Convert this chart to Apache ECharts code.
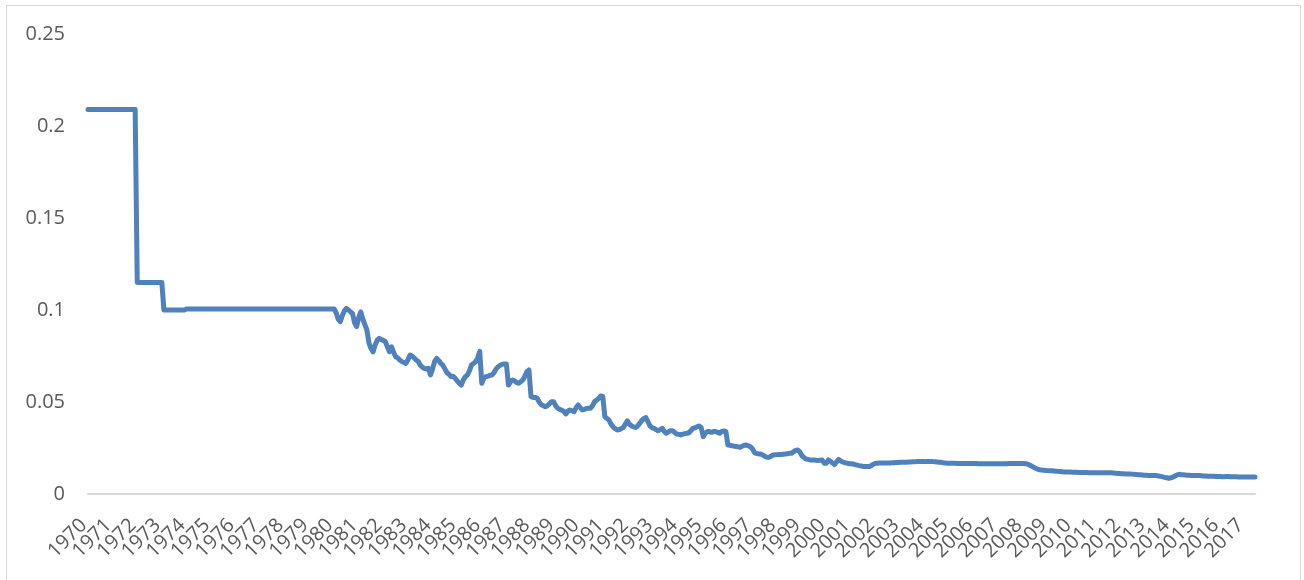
<!DOCTYPE html>
<html>
<head>
<meta charset="utf-8">
<title>Monthly ratio, 1970–2017</title>
<script src="https://cdn.jsdelivr.net/npm/echarts@6/dist/echarts.min.js"></script>
<style>
  html, body { margin: 0; padding: 0; background: #ffffff; }
  #frame {
    position: absolute; left: 6px; top: 5px; width: 1295px; height: 590px;
    border: 1px solid #d9d9d9; box-sizing: border-box;
  }
  #chart { position: absolute; left: 0; top: 0; width: 1304px; height: 580px; }
</style>
</head>
<body>
<div id="frame"></div>
<div id="chart"></div>
<script>
// Year labels along the category axis (one category per month)
const years = [
  1970, 1971, 1972, 1973, 1974, 1975, 1976, 1977, 1978, 1979,
  1980, 1981, 1982, 1983, 1984, 1985, 1986, 1987, 1988, 1989,
  1990, 1991, 1992, 1993, 1994, 1995, 1996, 1997, 1998, 1999,
  2000, 2001, 2002, 2003, 2004, 2005, 2006, 2007, 2008, 2009,
  2010, 2011, 2012, 2013, 2014, 2015, 2016, 2017
];
const months = ['01','02','03','04','05','06','07','08','09','10','11','12'];

// Monthly values, one row per year
const ratio1970s = [
  0.209, 0.209, 0.209, 0.209, 0.209, 0.209, 0.209, 0.209, 0.209, 0.209, 0.209, 0.209,
  0.209, 0.209, 0.209, 0.209, 0.209, 0.209, 0.209, 0.209, 0.209, 0.209, 0.209, 0.209,
  0.115, 0.115, 0.115, 0.115, 0.115, 0.115, 0.115, 0.115, 0.115, 0.115, 0.115, 0.115,
  0.115, 0.1, 0.1, 0.1, 0.1, 0.1, 0.1, 0.1, 0.1, 0.1, 0.1, 0.1,
  0.1005, 0.1005, 0.1005, 0.1005, 0.1005, 0.1005, 0.1005, 0.1005, 0.1005, 0.1005, 0.1005, 0.1005,
  0.1005, 0.1005, 0.1005, 0.1005, 0.1005, 0.1005, 0.1005, 0.1005, 0.1005, 0.1005, 0.1005, 0.1005,
  0.1005, 0.1005, 0.1005, 0.1005, 0.1005, 0.1005, 0.1005, 0.1005, 0.1005, 0.1005, 0.1005, 0.1005,
  0.1005, 0.1005, 0.1005, 0.1005, 0.1005, 0.1005, 0.1005, 0.1005, 0.1005, 0.1005, 0.1005, 0.1005,
  0.1005, 0.1005, 0.1005, 0.1005, 0.1005, 0.1005, 0.1005, 0.1005, 0.1005, 0.1005, 0.1005, 0.1005,
  0.1005, 0.1005, 0.1005, 0.1005, 0.1005, 0.1005, 0.1005, 0.1005, 0.1005, 0.1005, 0.1005, 0.1005
];
const ratio1980s = [
  0.1005, 0.0985, 0.095, 0.0937, 0.097, 0.0995, 0.1009, 0.1, 0.099, 0.098, 0.093, 0.091,
  0.096, 0.099, 0.095, 0.092, 0.089, 0.082, 0.079, 0.0773, 0.081, 0.0835, 0.0846, 0.084,
  0.0835, 0.0828, 0.080, 0.0773, 0.080, 0.077, 0.0746, 0.074, 0.0728, 0.072, 0.0715, 0.071,
  0.073, 0.0755, 0.075, 0.074, 0.0728, 0.072, 0.070, 0.069, 0.0683, 0.068, 0.0683, 0.0647,
  0.068, 0.072, 0.0737, 0.0725, 0.071, 0.070, 0.068, 0.066, 0.065, 0.0638, 0.064, 0.0629,
  0.0615, 0.0602, 0.0592, 0.062, 0.0638, 0.0647, 0.067, 0.0701, 0.071, 0.0719, 0.074, 0.0775,
  0.0602, 0.063, 0.0638, 0.064, 0.0645, 0.0647, 0.066, 0.068, 0.0692, 0.070, 0.0705, 0.0707,
  0.0707, 0.0592, 0.061, 0.062, 0.0615, 0.0605, 0.0602, 0.061, 0.062, 0.064, 0.0665, 0.0674,
  0.0529, 0.0525, 0.0525, 0.052, 0.050, 0.0485, 0.048, 0.0475, 0.048, 0.049, 0.0502, 0.0502,
  0.048, 0.0466, 0.046, 0.0455, 0.045, 0.0435, 0.045, 0.0457, 0.0452, 0.0447, 0.047, 0.0484
];
const ratio1990s = [
  0.047, 0.0457, 0.046, 0.0465, 0.0466, 0.0466, 0.048, 0.0502, 0.051, 0.052, 0.0533, 0.053,
  0.042, 0.041, 0.0402, 0.038, 0.0366, 0.0355, 0.0348, 0.035, 0.0355, 0.0362, 0.038, 0.0397,
  0.038, 0.037, 0.0365, 0.0362, 0.037, 0.0384, 0.040, 0.041, 0.0415, 0.0393, 0.037, 0.036,
  0.0357, 0.035, 0.0344, 0.035, 0.0357, 0.034, 0.033, 0.0338, 0.0344, 0.0344, 0.0335, 0.0326,
  0.0324, 0.0321, 0.0325, 0.0328, 0.033, 0.0333, 0.0345, 0.0357, 0.036, 0.0365, 0.037, 0.036,
  0.0312, 0.033, 0.0339, 0.0339, 0.0335, 0.0339, 0.0339, 0.0335, 0.033, 0.034, 0.0342, 0.034,
  0.0266, 0.0265, 0.0262, 0.026, 0.0258, 0.0256, 0.0254, 0.026, 0.0265, 0.0266, 0.0262, 0.0257,
  0.0245, 0.0225, 0.022, 0.0218, 0.0217, 0.0212, 0.0205, 0.020, 0.0199, 0.0205, 0.0212, 0.0213,
  0.0214, 0.0215, 0.0215, 0.0216, 0.0217, 0.0219, 0.0221, 0.0221, 0.023, 0.0237, 0.0239, 0.023,
  0.021, 0.0199, 0.019, 0.0188, 0.0185, 0.0185, 0.0185, 0.0183, 0.0182, 0.0184, 0.0185, 0.0167
];
const ratio2000s = [
  0.0167, 0.0185, 0.0178, 0.0168, 0.016, 0.0175, 0.0188, 0.018, 0.0174, 0.017, 0.0168, 0.0165,
  0.0164, 0.0163, 0.016, 0.0157, 0.0154, 0.0152, 0.015, 0.0149, 0.0149, 0.0149, 0.0155, 0.0162,
  0.0167, 0.0167, 0.0168, 0.0168, 0.0168, 0.0169, 0.0169, 0.0169, 0.017, 0.017, 0.0171, 0.0171,
  0.0172, 0.0172, 0.0173, 0.0173, 0.0174, 0.0174, 0.0175, 0.0175, 0.0176, 0.0176, 0.0176, 0.0176,
  0.0176, 0.0177, 0.0177, 0.0176, 0.0176, 0.0175, 0.0174, 0.0173, 0.0172, 0.017, 0.0169, 0.0167,
  0.0167, 0.0167, 0.0167, 0.0167, 0.0166, 0.0166, 0.0166, 0.0166, 0.0166, 0.0166, 0.0166, 0.0166,
  0.0166, 0.0166, 0.0165, 0.0165, 0.0165, 0.0165, 0.0165, 0.0165, 0.0165, 0.0165, 0.0165, 0.0165,
  0.0165, 0.0165, 0.0165, 0.0165, 0.0165, 0.0166, 0.0166, 0.0166, 0.0166, 0.0166, 0.0166, 0.0166,
  0.0166, 0.0165, 0.0163, 0.0158, 0.0152, 0.0146, 0.014, 0.0135, 0.0132, 0.013, 0.0129, 0.0128,
  0.0127, 0.0126, 0.0126, 0.0125, 0.0124, 0.0123, 0.0122, 0.0121, 0.012, 0.012, 0.0119, 0.0119
];
const ratio2010s = [
  0.0118, 0.0118, 0.0118, 0.0117, 0.0117, 0.0117, 0.0117, 0.0117, 0.0116, 0.0116, 0.0116, 0.0116,
  0.0116, 0.0116, 0.0116, 0.0116, 0.0115, 0.0115, 0.0115, 0.0115, 0.0114, 0.0113, 0.0112, 0.0111,
  0.011, 0.011, 0.0109, 0.0109, 0.0109, 0.0108, 0.0107, 0.0106, 0.0105, 0.0104, 0.0103, 0.0102,
  0.0102, 0.0101, 0.0101, 0.01, 0.01, 0.01, 0.0098, 0.0096, 0.0093, 0.009, 0.0088, 0.0086,
  0.0088, 0.0092, 0.0098, 0.0104, 0.0107, 0.0105, 0.0104, 0.0103, 0.0102, 0.0102, 0.0101, 0.0101,
  0.0101, 0.01, 0.01, 0.0099, 0.0098, 0.0098, 0.0097, 0.0097, 0.0096, 0.0096, 0.0095, 0.0095,
  0.0095, 0.0094, 0.0094, 0.0095, 0.0095, 0.0094, 0.0094, 0.0094, 0.0094, 0.0093, 0.0093, 0.0093,
  0.0093, 0.0093, 0.0093, 0.0093, 0.0093, 0.0093
];

const values = [].concat(ratio1970s, ratio1980s, ratio1990s, ratio2000s, ratio2010s);

// Month categories "YYYY-MM", trimmed to the length of the series
const categories = [];
years.forEach(function (y) {
  months.forEach(function (m) { categories.push(y + '-' + m); });
});
categories.length = values.length;
const lastIndex = values.length - 1;

const labelFont = '"Open Sans", "Noto Sans", sans-serif';
const chart = echarts.init(document.getElementById('chart'), null, { renderer: 'canvas' });

chart.setOption({
  animation: false,
  backgroundColor: 'transparent',
  grid: { left: 88, right: 49, top: 34, bottom: 86, containLabel: false },
  xAxis: {
    type: 'category',
    data: categories,
    boundaryGap: false,
    axisLine: { show: true, lineStyle: { color: '#d9d9d9', width: 2 } },
    axisTick: { show: false },
    splitLine: { show: false },
    axisLabel: {
      // a year label on each January; the second and the final month carry
      // blank labels so the edge-label overlap check never drops a year
      interval: function (index, value) {
        return value.slice(5) === '01' || index === 1 || index === lastIndex;
      },
      showMinLabel: true,
      hideOverlap: false,
      rotate: 45,
      margin: 24,
      padding: [0, 6, 0, 0],
      color: '#595959',
      fontFamily: labelFont,
      fontSize: 20,
      formatter: function (v) { return v.slice(5) === '01' ? v.slice(0, 4) : ''; }
    }
  },
  yAxis: {
    type: 'value',
    min: 0,
    max: 0.25,
    interval: 0.05,
    axisLine: { show: false },
    axisTick: { show: false },
    splitLine: { show: false },
    axisLabel: {
      margin: 23,
      color: '#595959',
      fontFamily: labelFont,
      fontSize: 20
    }
  },
  series: [{
    type: 'line',
    data: values,
    symbol: 'none',
    smooth: false,
    lineStyle: { color: '#4f81bd', width: 5, cap: 'round', join: 'round' }
  }]
});
</script>
</body>
</html>
